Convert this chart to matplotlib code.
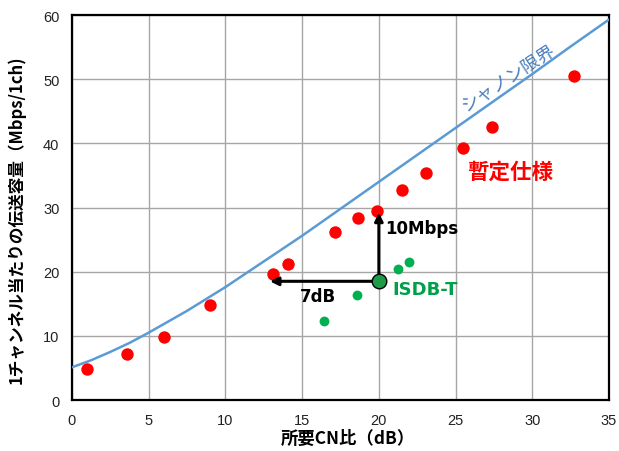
import numpy as np
import matplotlib.pyplot as plt

plt.rcParams['font.family'] = ['Noto Sans CJK JP', 'DejaVu Sans']

# Shannon limit (capacity per 6 MHz channel)
shannon_cn = [0, 1.25, 2.5, 3.75, 5, 7.5, 10, 12.5, 15, 17.5, 20, 22.5, 25, 27.5, 30, 32.5, 35]
shannon_cap = [5.1, 6.2, 7.5, 8.9, 10.5, 13.9, 17.6, 21.6, 25.6, 29.8, 34.0, 38.2, 42.4,
               46.6, 50.8, 55.1, 59.3]

# provisional spec (red) points
spec_cn = [1.0, 3.6, 6.0, 9.0, 13.1, 14.1, 17.15, 18.65, 19.9, 21.5, 23.1, 25.5, 27.4, 32.7]
spec_cap = [4.9, 7.1, 9.8, 14.8, 19.6, 21.2, 26.2, 28.3, 29.5, 32.8, 35.4, 39.3, 42.6, 50.5]

# ISDB-T (green) points
isdb_cn = [16.4, 18.6, 21.25, 21.95]
isdb_cap = [12.3, 16.3, 20.4, 21.5]
isdb_ref = (20.0, 18.5)
target_cn = 12.9
target_cap = 29.2

fig = plt.figure(figsize=(6.19, 4.52), dpi=100)
ax = fig.add_axes([0.1163, 0.1128, 0.8676, 0.8518])

ax.plot(shannon_cn, shannon_cap, color='#5b9bd5', lw=1.8, zorder=3)
ax.scatter(spec_cn, spec_cap, s=80, color='#ff0000', zorder=4, linewidths=0)
ax.scatter(isdb_cn, isdb_cap, s=50, color='#00b050', zorder=4, linewidths=0)

# arrows from the ISDB-T reference point
ax.annotate('', xy=(target_cn, isdb_ref[1]), xytext=isdb_ref,
            arrowprops=dict(arrowstyle='-|>', color='black', lw=2.2,
                            mutation_scale=12, shrinkA=0, shrinkB=0), zorder=5)
ax.annotate('', xy=(isdb_ref[0], target_cap), xytext=isdb_ref,
            arrowprops=dict(arrowstyle='-|>', color='black', lw=2.2,
                            mutation_scale=12, shrinkA=0, shrinkB=0), zorder=5)
ax.scatter([isdb_ref[0]], [isdb_ref[1]], s=110, color='#1f9a48',
           edgecolors='black', linewidths=1.0, zorder=6)

latin = ['DejaVu Sans']
ax.text(20.4, 26.8, '10Mbps', fontsize=12, fontweight='bold', va='center', ha='left',
        family=latin)
ax.text(16.0, 16.2, '7dB', fontsize=12, fontweight='bold', va='center', ha='center',
        family=latin)
ax.text(20.85, 17.3, 'ISDB-T', fontsize=13, fontweight='bold', va='center', ha='left',
        color='#00a04a', family=latin)
ax.text(28.55, 35.6, '暫定仕様', fontsize=15.5, fontweight='bold', va='center', ha='center',
        color='#ff0000')
ax.text(28.4, 50.4, 'シャノン限界', fontsize=13, va='center', ha='center',
        color='#4a7fc0', rotation=33)

ax.set_xlim(0, 35)
ax.set_ylim(0, 60)
ax.set_xticks(np.arange(0, 36, 5))
ax.set_yticks(np.arange(0, 61, 10))
ax.grid(True, color='#a6a6a6', lw=1.0)
ax.set_axisbelow(True)
ax.tick_params(length=0, labelsize=10.5, pad=9, labelcolor='#222222')
for lab in ax.get_xticklabels() + ax.get_yticklabels():
    lab.set_family(['Liberation Sans', 'DejaVu Sans'])
for side in ax.spines.values():
    side.set_color('black')
    side.set_linewidth(1.6)

ax.set_xlabel('所要CN比（dB）', fontsize=12.5, fontweight='bold')
ax.set_ylabel('1チャンネル当たりの伝送容量（Mbps/1ch)', fontsize=12, fontweight='bold')
ax.xaxis.set_label_coords(0.514, -0.075)
ax.yaxis.set_label_coords(-0.086, 0.47)

fig.savefig('out.png', dpi=100)
